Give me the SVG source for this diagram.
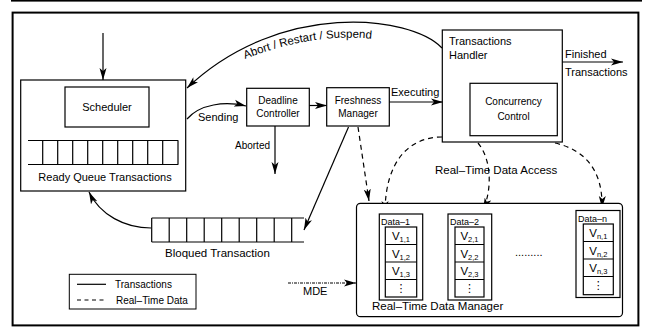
<svg xmlns="http://www.w3.org/2000/svg" width="654" height="330" viewBox="0 0 654 330">
<defs>
<marker id="ah" markerUnits="userSpaceOnUse" markerWidth="12" markerHeight="8" viewBox="0 0 12 8" refX="12" refY="4" orient="auto">
<path d="M0,0.5 L12,4 L0,7.5 L3,4 z" fill="#000"/>
</marker>
<style>
text{font-family:"Liberation Sans",Arial,sans-serif;fill:#000}
.b{fill:#fff;stroke:#000;stroke-width:1.2}
.c{fill:none;stroke:#000;stroke-width:1.2}
.d{fill:none;stroke:#000;stroke-width:1.2;stroke-dasharray:5,4}
.dd{fill:none;stroke:#000;stroke-width:1;stroke-dasharray:3,1,1,1}
.q{fill:none;stroke:#000;stroke-width:1.2}
.f11{font-size:11px}
.f10{font-size:10px}
.f9{font-size:9px}
.m{text-anchor:middle}
</style>
</defs>
<rect width="654" height="330" fill="#fff"/>
<rect x="11" y="0" width="631" height="1.6" fill="#000"/>
<rect x="12.6" y="12.6" width="625.8" height="312.8" fill="none" stroke="#000" stroke-width="2"/>

<g id="connectors">
<line class="c" x1="103" y1="33" x2="103" y2="80" marker-end="url(#ah)"/>
<path class="c" d="M442,48 C410,15 280,0 187,88" marker-end="url(#ah)"/>
<path class="c" d="M187,119 C200,104 225,101 246,106" marker-end="url(#ah)"/>
<line class="c" x1="309" y1="105.5" x2="327" y2="105.5" marker-end="url(#ah)"/>
<line class="c" x1="275" y1="126" x2="275" y2="174" marker-end="url(#ah)"/>
<line class="c" x1="389" y1="102" x2="443" y2="102" marker-end="url(#ah)"/>
<line class="c" x1="562" y1="62" x2="623" y2="62" marker-end="url(#ah)"/>
<line class="c" x1="348.5" y1="127" x2="304" y2="230" marker-end="url(#ah)"/>
<path class="c" d="M151,228 C125,228 100,215 89,192" marker-end="url(#ah)"/>
<line class="d" x1="358" y1="127" x2="369" y2="201" marker-end="url(#ah)"/>
<path class="d" d="M442,137 C410,137 385,160 385,213" marker-end="url(#ah)"/>
<path class="d" d="M478,143 C492,160 492,190 483,210" marker-end="url(#ah)"/>
<path class="d" d="M555,143 C585,150 603,170 602,208" marker-end="url(#ah)"/>
<line class="dd" x1="288" y1="283" x2="356" y2="283" marker-end="url(#ah)"/>
<path id="tp" d="M245,59 Q330,26 400,44" fill="none"/>
<text style="font-size:11.5px"><textPath href="#tp">Abort / Restart / Suspend</textPath></text>
<text class="f11" x="198" y="121">Sending</text>
<text class="f10" x="235" y="148.5">Aborted</text>
<text class="f11" x="391" y="96">Executing</text>
<text class="f11" x="565" y="58">Finished</text>
<text class="f11" x="565" y="76">Transactions</text>
<text style="font-size:11.5px" x="435" y="174">Real–Time Data Access</text>
<text class="f11" x="303" y="295">MDE</text>
</g>

<g id="ready-queue">
<rect class="b" x="20.7" y="80" width="165" height="111"/>
<g id="scheduler">
<rect class="b" x="65" y="87" width="84" height="40"/>
<text class="f11 m" x="107" y="111">Scheduler</text>
</g>
<path class="q" d="M28,140.5 H178.3 M28,164.5 H178.3 M42.7,140.5 V164.5 M57.7,140.5 V164.5 M72.7,140.5 V164.5 M87.7,140.5 V164.5 M102.7,140.5 V164.5 M117.7,140.5 V164.5 M132.7,140.5 V164.5 M147.7,140.5 V164.5 M162.7,140.5 V164.5 M178,140.5 V164.5"/>
<text class="f11 m" x="105" y="181">Ready Queue Transactions</text>
</g>

<g id="deadline-controller">
<rect class="b" x="246.7" y="88.3" width="62.6" height="37.7"/>
<text class="f10 m" x="278" y="103.5">Deadline</text>
<text class="f10 m" x="278" y="117">Controller</text>
</g>

<g id="freshness-manager">
<rect class="b" x="326.7" y="87.7" width="62.6" height="38.3"/>
<text class="f10 m" x="358" y="103.5">Freshness</text>
<text class="f10 m" x="358" y="117">Manager</text>
</g>

<g id="transactions-handler">
<rect class="b" x="442.3" y="30" width="120" height="112"/>
<text class="f11" x="449" y="44.5">Transactions</text>
<text class="f11" x="449" y="59">Handler</text>
<g id="concurrency-control">
<rect class="b" x="470" y="83.3" width="87.3" height="52.4"/>
<text class="f10 m" x="513.5" y="104.5">Concurrency</text>
<text class="f10 m" x="513.5" y="120">Control</text>
</g>
</g>

<g id="bloqued-transaction">
<path class="q" d="M151.7,218 H304 M151.7,242 H304 M151.7,218 V242 M169.2,218 V242 M186.7,218 V242 M204.2,218 V242 M221.7,218 V242 M239.2,218 V242 M256.7,218 V242 M274.2,218 V242 M291.7,218 V242"/>
<text style="font-size:11.5px" class="m" x="217.5" y="257">Bloqued Transaction</text>
</g>

<g id="legend">
<rect x="69.3" y="274.3" width="126.7" height="34.7" fill="#fff" stroke="#000" stroke-width="1"/>
<line class="c" x1="77" y1="284.3" x2="106" y2="284.3"/>
<line x1="77" y1="300" x2="106" y2="300" stroke="#000" stroke-width="1.2" stroke-dasharray="4,3.5"/>
<text class="f10" x="115" y="288">Transactions</text>
<text class="f10" x="116" y="304">Real–Time Data</text>
</g>

<g id="rt-data-manager">
<rect class="b" x="356.5" y="203.3" width="266" height="113.4" rx="4"/>
<text style="font-size:11.5px" x="372" y="310">Real–Time Data Manager</text>
<g id="data-1">
<rect class="b" x="379.3" y="214" width="43.4" height="86"/>
<text class="f9" x="381" y="224.5">Data–1</text>
<rect class="b" x="385.3" y="227" width="31.4" height="70"/>
<path class="q" d="M385.3,244.5 H416.7 M385.3,262 H416.7 M385.3,279.5 H416.7"/>
<text class="m" style="font-size:11.5px" x="401" y="240">V<tspan style="font-size:7.5px" dy="2">1,1</tspan></text>
<text class="m" style="font-size:11.5px" x="401" y="257.5">V<tspan style="font-size:7.5px" dy="2">1,2</tspan></text>
<text class="m" style="font-size:11.5px" x="401" y="275">V<tspan style="font-size:7.5px" dy="2">1,3</tspan></text>
<text class="m" style="font-family:'DejaVu Sans',sans-serif;font-size:11px" x="401" y="292">⋮</text>
</g>
<g id="data-2">
<rect class="b" x="448" y="214" width="43.7" height="86"/>
<text class="f9" x="450" y="224.5">Data–2</text>
<rect class="b" x="455" y="227" width="29" height="70"/>
<path class="q" d="M455,244.5 H484 M455,262 H484 M455,279.5 H484"/>
<text class="m" style="font-size:11.5px" x="469.5" y="240">V<tspan style="font-size:7.5px" dy="2">2,1</tspan></text>
<text class="m" style="font-size:11.5px" x="469.5" y="257.5">V<tspan style="font-size:7.5px" dy="2">2,2</tspan></text>
<text class="m" style="font-size:11.5px" x="469.5" y="275">V<tspan style="font-size:7.5px" dy="2">2,3</tspan></text>
<text class="m" style="font-family:'DejaVu Sans',sans-serif;font-size:11px" x="469.5" y="292">⋮</text>
</g>
<text class="f11" x="515" y="256">.........</text>
<g id="data-n">
<rect class="b" x="576" y="210.5" width="44" height="87"/>
<text class="f9" x="578" y="221.5">Data–n</text>
<rect class="b" x="583.3" y="224" width="30" height="70.7"/>
<path class="q" d="M583.3,241.5 H613.3 M583.3,259 H613.3 M583.3,276.5 H613.3"/>
<text class="m" style="font-size:11.5px" x="598.3" y="237">V<tspan style="font-size:7.5px" dy="2">n,1</tspan></text>
<text class="m" style="font-size:11.5px" x="598.3" y="254.5">V<tspan style="font-size:7.5px" dy="2">n,2</tspan></text>
<text class="m" style="font-size:11.5px" x="598.3" y="272">V<tspan style="font-size:7.5px" dy="2">n,3</tspan></text>
<text class="m" style="font-family:'DejaVu Sans',sans-serif;font-size:11px" x="598.3" y="289">⋮</text>
</g>
</g>
</svg>
